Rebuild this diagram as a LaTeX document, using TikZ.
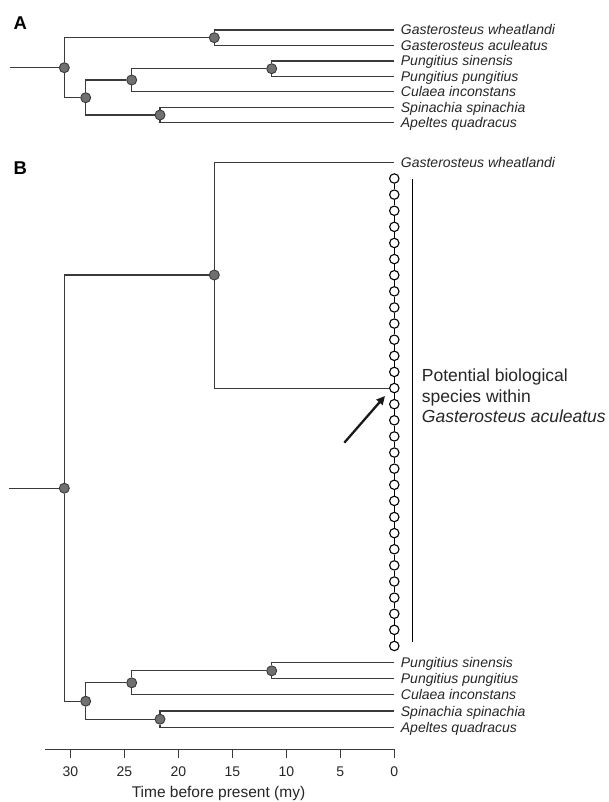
\documentclass[tikz,border=0pt]{standalone}
\usepackage{fontspec}
\setmainfont{Liberation Sans}
\usetikzlibrary{arrows.meta}
\definecolor{linegrey}{HTML}{3A3A3A}
\definecolor{nodegrey}{HTML}{707070}
\definecolor{txt}{HTML}{262626}
\begin{document}
\begin{tikzpicture}[x=1pt,y=-1pt,
  branch/.style={draw=linegrey, line width=1.1pt},
  inode/.style={circle, draw=linegrey, fill=nodegrey, line width=0.9pt, minimum size=10pt, inner sep=0pt},
  tipc/.style={circle, draw=black, fill=white, line width=1.1pt, minimum size=9.4pt, inner sep=0pt},
  chain/.style={draw=black, line width=1.1pt},
  sp/.style={anchor=base west, inner sep=0pt, text=txt, font=\fontsize{14}{16}\selectfont\itshape},
  panel/.style={anchor=base west, inner sep=0pt, text=black, font=\fontsize{18.5}{20}\selectfont\bfseries},
  ticklab/.style={anchor=base, inner sep=0pt, text=txt, font=\fontsize{14}{16}\selectfont},
  note/.style={anchor=base west, inner sep=0pt, text=txt, font=\fontsize{17.5}{20}\selectfont},
  axisline/.style={draw=linegrey, line width=1.1pt},
]
\useasboundingbox (0,0) rectangle (608,802);

% ---------------- Panel A ----------------
\node[panel] (labA) at (13.3,29.3) {A};
\coordinate (As) at (10,67.7);
\node[inode] (Ar) at (64.3,67.7) {};
\node[inode] (Ag) at (214.3,37.7) {};
\node[inode] (Al) at (85.7,97.7) {};
\node[inode] (Apc) at (131.7,80) {};
\node[inode] (Ap) at (271.7,68.7) {};
\node[inode] (Asa) at (160,115) {};
\coordinate (At1) at (394.3,30);
\coordinate (At2) at (394.3,45.3);
\coordinate (At3) at (394.3,61);
\coordinate (At4) at (394.3,76.3);
\coordinate (At5) at (394.3,91.7);
\coordinate (At6) at (394.3,107.3);
\coordinate (At7) at (394.3,122.7);
\draw[branch] (As) -- (Ar);
\draw[branch] (Ar) |- (Ag);
\draw[branch] (Ar) |- (Al);
\draw[branch] (Ag) |- (At1);
\draw[branch] (Ag) |- (At2);
\draw[branch] (Al) |- (Apc);
\draw[branch] (Al) |- (Asa);
\draw[branch] (Apc) |- (Ap);
\draw[branch] (Apc) |- (At5);
\draw[branch] (Ap) |- (At3);
\draw[branch] (Ap) |- (At4);
\draw[branch] (Asa) |- (At6);
\draw[branch] (Asa) |- (At7);
\node[sp] (LA1) at (400.7,35) {Gasterosteus wheatlandi};
\node[sp] (LA2) at (400.7,50.3) {Gasterosteus aculeatus};
\node[sp] (LA3) at (400.7,66) {Pungitius sinensis};
\node[sp] (LA4) at (400.7,81.3) {Pungitius pungitius};
\node[sp] (LA5) at (400.7,96.7) {Culaea inconstans};
\node[sp] (LA6) at (400.7,112.3) {Spinachia spinachia};
\node[sp] (LA7) at (400.7,127.7) {Apeltes quadracus};

% ---------------- Panel B ----------------
\node[panel] (labB) at (13.3,175) {B};
\coordinate (Bs) at (9,488.2);
\node[inode] (Br) at (64.3,488.2) {};
\node[inode] (Bg) at (214.3,275) {};
\node[inode] (Bl) at (85.7,701.2) {};
\node[inode] (Bpc) at (131.7,682.8) {};
\node[inode] (Bp) at (271.7,670.8) {};
\node[inode] (Bsa) at (160,719.2) {};
\coordinate (Bt1) at (394.3,162.7);
\coordinate (Bt3) at (394.3,662.7);
\coordinate (Bt4) at (394.3,678.8);
\coordinate (Bt5) at (394.3,694.9);
\coordinate (Bt6) at (394.3,711);
\coordinate (Bt7) at (394.3,727.3);

% column of potential species
\foreach \k in {0,...,29}{
  \node[tipc] (c\k) at (394.3,{178.5+16.12*\k}) {};
}
\foreach \k [evaluate=\k as \n using int(\k+1)] in {0,...,28}{
  \draw[chain] (c\k) -- (c\n);
}

\draw[branch] (Bs) -- (Br);
\draw[branch] (Br) |- (Bg);
\draw[branch] (Br) |- (Bl);
\draw[branch] (Bg) |- (Bt1);
\draw[branch] (Bg) |- (c13);
\draw[branch] (Bl) |- (Bpc);
\draw[branch] (Bl) |- (Bsa);
\draw[branch] (Bpc) |- (Bp);
\draw[branch] (Bpc) |- (Bt5);
\draw[branch] (Bp) |- (Bt3);
\draw[branch] (Bp) |- (Bt4);
\draw[branch] (Bsa) |- (Bt6);
\draw[branch] (Bsa) |- (Bt7);

\node[sp] (LB1) at (400.7,167.7) {Gasterosteus wheatlandi};
\node[sp] (LB3) at (400.7,667.7) {Pungitius sinensis};
\node[sp] (LB4) at (400.7,683.8) {Pungitius pungitius};
\node[sp] (LB5) at (400.7,699.9) {Culaea inconstans};
\node[sp] (LB6) at (400.7,716) {Spinachia spinachia};
\node[sp] (LB7) at (400.7,732.3) {Apeltes quadracus};

% bracket bar
\coordinate (barT) at (412.3,179.3);
\coordinate (barB) at (412.3,641.7);
\draw[draw=black, line width=1.3pt] (barT) -- (barB);

% annotation
\node[note] (n1) at (421.7,381.7) {Potential biological};
\node[note] (n2) at (421.7,402.2) {species within};
\node[note] (n3) at (421.7,422.7) {\itshape Gasterosteus aculeatus};

% arrow
\coordinate (arT) at (344.3,442.7);
\coordinate (arH) at (385,396);
\draw[draw=black!90, line width=2.3pt, -{Triangle[length=8.5pt,width=8pt]}] (arT) -- (arH);

% ---------------- Axis ----------------
\coordinate (ax0) at (45,749.3);
\coordinate (ax1) at (394.3,749.3);
\draw[axisline] (ax0) -- (ax1);
\foreach \t in {0,5,...,30}{
  \draw[axisline] ({394.3-10.8*\t},749.3) -- ++(0,9);
  \node[ticklab] at ({394.3-10.8*\t},776.7) {\t};
}
\node[anchor=base, inner sep=0pt, text=txt, font=\fontsize{15.5}{17}\selectfont] (axt) at (218.5,797.8) {Time before present (my)};
\end{tikzpicture}
\end{document}
